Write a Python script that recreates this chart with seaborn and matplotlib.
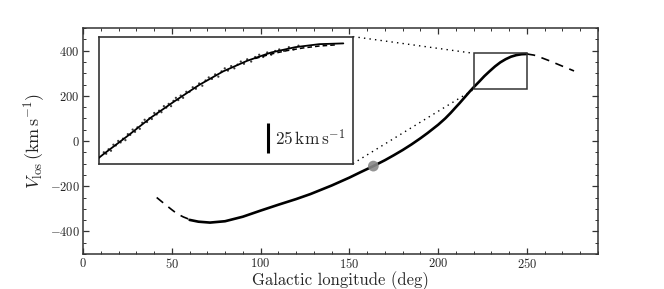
import matplotlib
matplotlib.use("Agg")
import matplotlib.pyplot as plt
import seaborn as sns
import pandas as pd
from matplotlib.ticker import MultipleLocator
from matplotlib.patches import Rectangle

# ---------------- data ----------------
track_lon = [60, 65, 71.5, 80, 90, 100, 110, 120, 128, 140, 150, 156, 163.5, 170, 175,
             180, 185, 190, 194, 200, 204, 207, 210, 212, 215, 218, 220, 223, 226, 229,
             232, 235, 238, 241, 244, 247, 250]
track_vlos = [-349, -357, -361, -355, -335, -308, -282, -257, -235, -197, -162, -139, -111,
              -85, -63, -40, -15, 12, 35, 72, 100, 124, 150, 167, 194, 221, 238, 262, 287,
              309, 330, 348, 362, 373, 380, 384, 385]

lead_lon = [41.5, 46, 50, 53, 56.5, 60]
lead_vlos = [-250, -279, -304, -322, -336, -347]

trail_lon = [250, 254, 258, 262, 266, 270, 276.5]
trail_vlos = [385, 380, 369, 357, 344, 331, 310]

model_lon_zoom = [239, 241, 243, 245, 247, 249]
model_vlos_zoom = [365, 371, 375.5, 379, 381.5, 383]

stars_lon = [220.1, 220.4, 220.7, 221.0, 221.3, 221.6, 221.9, 222.2, 222.5, 222.8, 223.1,
             223.4, 223.7, 224.0, 224.3, 224.6, 224.9, 225.2, 225.5, 225.8, 226.1, 226.4,
             226.7, 227.0, 227.3, 227.6, 227.9, 228.2, 228.5, 228.8, 229.1, 229.4, 229.7,
             230.0, 230.4, 230.8, 231.2, 231.6, 232.0, 232.4, 232.8, 233.2, 233.6, 234.0,
             234.4, 234.8, 235.2, 235.6, 236.0, 236.4, 236.8, 237.2, 237.6, 238.0, 238.5,
             239.0, 239.5, 240.0, 240.5, 241.0, 241.5, 242.0, 242.6, 243.2, 243.8, 244.4]
stars_vlos = [241, 239, 245, 243, 251, 250, 256, 254, 259, 257, 265, 264, 271, 268, 274,
              272, 280, 284, 281, 286, 285, 293, 291, 296, 294, 302, 300, 305, 302, 309,
              313, 310, 316, 313, 321, 321, 327, 325, 332, 329, 336, 340, 338, 344, 341,
              348, 352, 349, 355, 352, 357, 361, 358, 364, 361, 367, 370, 367, 373, 370,
              375, 377, 375, 380, 377, 382]

progenitor_lon = [163.5]
progenitor_vlos = [-111]

x_ticks = [0, 50, 100, 150, 200, 250]
y_ticks = [-400, -200, 0, 200, 400]

zoom_box = (220, 228, 250, 388)          # lon0, v0, lon1, v1
inset_bounds = (9, -100, 152, 462)       # lon0, v0, lon1, v1 (in main-axes data)
inset_xlim = (219.5, 251.2)
inset_ylim = (226, 394)
scale_label = r"$25\,\mathrm{km\,s^{-1}}$"

# ---------------- style ----------------
sns.set_style("ticks")
plt.rcParams["font.family"] = ["cmr10", "DejaVu Serif"]
plt.rcParams["mathtext.fontset"] = "cm"
plt.rcParams["axes.formatter.use_mathtext"] = True
plt.rcParams["axes.unicode_minus"] = True

edge = "#333333"
fig = plt.figure(figsize=(6.64, 2.89), dpi=100)
ax = fig.add_axes([0.125, 0.1211, 0.7756, 0.782])

df_track = pd.DataFrame({"lon": track_lon, "v": track_vlos})
df_lead = pd.DataFrame({"lon": lead_lon, "v": lead_vlos})
df_trail = pd.DataFrame({"lon": trail_lon, "v": trail_vlos})

sns.lineplot(data=df_track, x="lon", y="v", ax=ax, color="black", lw=1.9,
             sort=False, estimator=None)
for d in (df_lead, df_trail):
    sns.lineplot(data=d, x="lon", y="v", ax=ax, color="black", lw=1.2,
                 sort=False, estimator=None)
ax.lines[-1].set_dashes((5, 4))
ax.lines[-2].set_dashes((5, 4))

sns.scatterplot(x=progenitor_lon, y=progenitor_vlos, ax=ax, s=60, color="#888888",
                edgecolor="none", alpha=0.9, zorder=5)

ax.set_xlim(0, 290)
ax.set_ylim(-500, 500)
ax.set_xticks(x_ticks)
ax.set_yticks(y_ticks)
ax.xaxis.set_minor_locator(MultipleLocator(10))
ax.yaxis.set_minor_locator(MultipleLocator(50))
ax.tick_params(which="both", direction="in", top=True, right=True, color=edge,
               labelsize=9, pad=2.5)
ax.tick_params(which="major", length=4, width=0.9)
ax.tick_params(which="minor", length=2, width=0.7)
for s in ax.spines.values():
    s.set_color(edge)
    s.set_linewidth(1.1)
ax.set_xlabel("Galactic longitude (deg)", fontsize=12, labelpad=0)
ax.set_ylabel(r"$V_{\rm los}\,(\rm km\,s^{-1})$", fontsize=13, labelpad=2)

# zoom rectangle
bx0, by0, bx1, by1 = zoom_box
ax.add_patch(Rectangle((bx0, by0), bx1 - bx0, by1 - by0, fill=False,
                       edgecolor=edge, lw=1.1, zorder=4))

# inset
ix0, iy0, ix1, iy1 = inset_bounds
axins = ax.inset_axes([ix0, iy0, ix1 - ix0, iy1 - iy0], transform=ax.transData)
sns.scatterplot(x=stars_lon, y=stars_vlos, ax=axins, s=2.5, color="#3a3a3a",
                edgecolor="none", zorder=2)
sns.lineplot(data=df_track, x="lon", y="v", ax=axins, color="black", lw=1.3,
             sort=False, estimator=None, zorder=3)
sns.lineplot(x=model_lon_zoom, y=model_vlos_zoom, ax=axins, color="black", lw=1.1,
             sort=False, estimator=None, zorder=3)
axins.lines[-1].set_dashes((3, 2))
axins.set_xlim(*inset_xlim)
axins.set_ylim(*inset_ylim)
axins.set_xticks([])
axins.set_yticks([])
axins.set_xlabel("")
axins.set_ylabel("")
for s in axins.spines.values():
    s.set_color(edge)
    s.set_linewidth(1.2)
# scale bar
axins.plot([0.664, 0.664], [0.085, 0.32], transform=axins.transAxes, color="black",
           lw=2.2, solid_capstyle="butt")
axins.text(0.695, 0.2, scale_label, transform=axins.transAxes, fontsize=12.5,
           va="center", ha="left")

# connectors (dotted)
ax.plot([ix1, bx0], [iy1, by1], color="black", lw=1.0, ls=(0, (1, 3)), zorder=1)
ax.plot([ix1, bx0], [iy0, by0], color="black", lw=1.0, ls=(0, (1, 3)), zorder=1)

fig.savefig("out.png", dpi=100)
